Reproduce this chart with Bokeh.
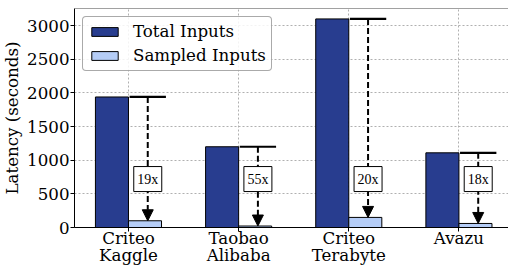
from bokeh.plotting import figure
from bokeh.models import Range1d, Arrow, NormalHead, ColumnDataSource, Span
from bokeh.core.properties import value
from bokeh.embed import file_html
from bokeh.resources import INLINE

# ---- data ----
categories = ["Criteo\nKaggle", "Taobao\nAlibaba", "Criteo\nTerabyte", "Avazu"]
total_inputs = [1940, 1200, 3100, 1110]
sampled_inputs = [100, 22, 150, 60]
speedups = ["19x", "55x", "20x", "18x"]
y_ticks = [0, 500, 1000, 1500, 2000, 2500, 3000]

# ---- style ----
DARK = "#283d8f"
LIGHT = "#b5cdf7"
FONT = "DejaVu Serif"
FS = "16.67px"
BAR_W = 0.3
LABEL_Y = 720
Y_MAX = 3255

xs = list(range(len(categories)))
x_total = [c - BAR_W / 2 for c in xs]
x_samp = [c + BAR_W / 2 for c in xs]
x_arrow = [c + 0.175 for c in xs]
x_l0 = [c + 0.01 for c in xs]
x_l1 = [c + 0.34 for c in xs]
label_y = [LABEL_Y] * len(xs)

p = figure(width=508, height=267,
           x_range=Range1d(-0.49, 3.45), y_range=Range1d(0, Y_MAX),
           output_backend="svg", toolbar_location=None,
           min_border_left=73, min_border_right=0,
           min_border_top=8, min_border_bottom=40)

p.vbar(x=x_total, top=total_inputs, width=BAR_W, fill_color=DARK,
       line_color="black", line_width=1, legend_label="Total Inputs")
p.vbar(x=x_samp, top=sampled_inputs, width=BAR_W, fill_color=LIGHT,
       line_color="black", line_width=1, legend_label="Sampled Inputs")

# horizontal reference lines at total height
p.segment(x0=x_l0, x1=x_l1, y0=total_inputs, y1=total_inputs,
          line_color="black", line_width=2.2)

# dashed arrows
asrc = ColumnDataSource(dict(x=x_arrow, y0=total_inputs, y1=sampled_inputs))
p.add_layout(Arrow(end=NormalHead(size=11, fill_color="black", line_color="black"),
                   x_start="x", y_start="y0", x_end="x", y_end="y1",
                   source=asrc, line_color="black", line_width=2,
                   line_dash="6 3"))

# label boxes (above arrows)
r_box = p.rect(x=x_arrow, y=label_y, width=28, height=25,
               width_units="screen", height_units="screen",
               fill_color="white", line_color="black", line_width=1)
r_txt = p.text(x=x_arrow, y=label_y, text=speedups, text_align="center",
               text_baseline="middle", text_font=value("Liberation Serif"),
               text_font_size="14px", text_color="black")
r_box.level = "overlay"
r_txt.level = "overlay"

# top spine
p.add_layout(Span(location=Y_MAX, dimension="width", line_color="#444444",
                  line_width=1.2))
p.outline_line_color = None

# axes
p.xaxis.ticker = xs
p.xaxis.major_label_overrides = {c: lab for c, lab in zip(xs, categories)}
p.yaxis.ticker = y_ticks
p.yaxis.axis_label = "Latency (seconds)"
for ax in (p.xaxis, p.yaxis):
    ax.major_label_text_font = FONT
    ax.major_label_text_font_size = FS
    ax.major_label_text_color = "black"
    ax.axis_label_text_font = FONT
    ax.axis_label_text_font_size = FS
    ax.axis_label_text_font_style = "normal"
    ax.axis_label_text_color = "black"
    ax.minor_tick_line_color = None
    ax.major_tick_in = 0
    ax.major_tick_out = 4
    ax.axis_line_color = "black"
    ax.major_tick_line_color = "black"
p.yaxis.major_label_standoff = 1
p.yaxis.axis_label_standoff = 2
p.xaxis.major_label_standoff = -3
p.xaxis.major_label_text_line_height = 0.91

p.grid.grid_line_color = "#b0b0b0"
p.grid.grid_line_dash = "2 2"
p.grid.grid_line_width = 1

leg = p.legend[0]
leg.location = "top_left"
leg.margin = 8
leg.padding = 5
leg.spacing = 5
leg.glyph_width = 33
leg.glyph_height = 11
leg.label_height = 19
leg.label_standoff = 12
leg.label_text_font = FONT
leg.label_text_font_size = FS
leg.label_text_color = "black"
leg.border_line_color = "#555555"
leg.border_line_width = 1
leg.background_fill_alpha = 0.85
try:
    leg.border_radius = 4
except Exception:
    pass

open("out.html", "w").write(file_html(p, INLINE))
